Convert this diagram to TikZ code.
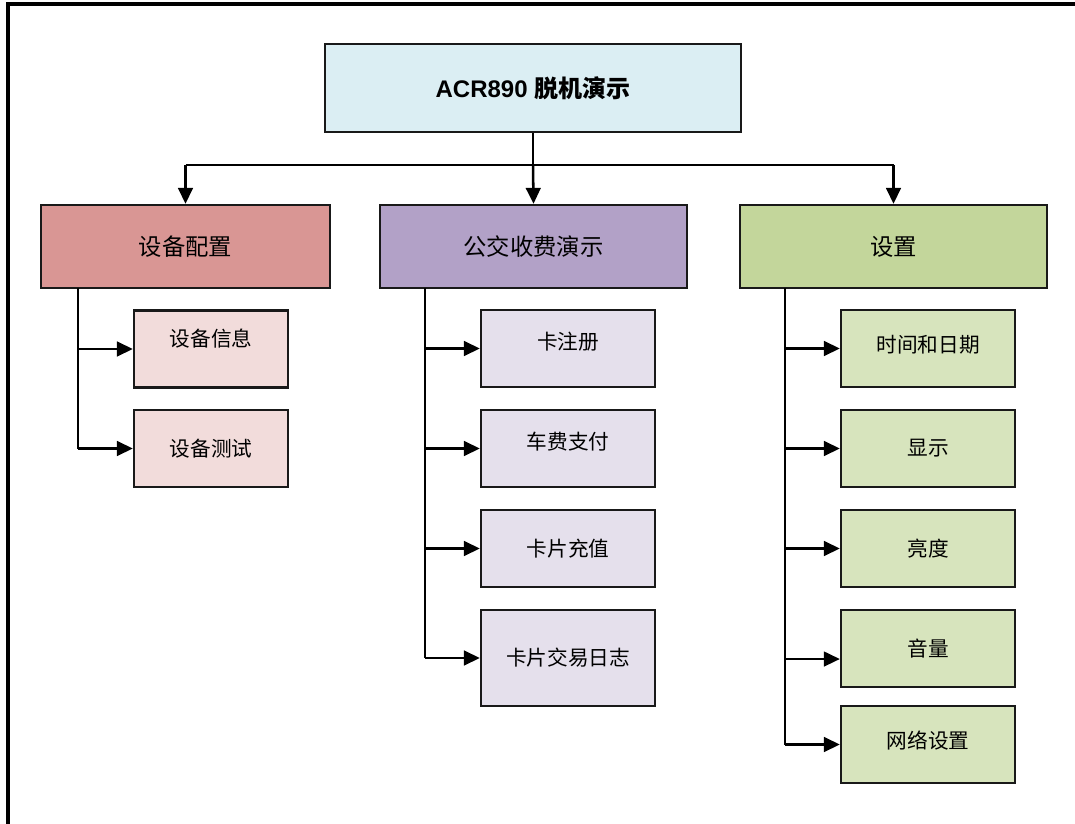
\documentclass[tikz,border=0pt]{standalone}
\usepackage{fontspec}
\setmainfont{Liberation Sans}
\newfontfamily\cjk{Noto Sans CJK SC}
\usetikzlibrary{arrows.meta}
\definecolor{rootfill}{HTML}{DBEEF3}
\definecolor{redA}{HTML}{D99694}
\definecolor{redB}{HTML}{F2DCDB}
\definecolor{purA}{HTML}{B2A1C7}
\definecolor{purB}{HTML}{E5E0EC}
\definecolor{grnA}{HTML}{C3D69B}
\definecolor{grnB}{HTML}{D7E4BD}
\begin{document}
\begin{tikzpicture}[x=0.75pt,y=-0.75pt,
  box/.style={draw=black!90,line width=1.7pt,inner sep=0pt,align=center},
  lvone/.style={box,minimum height=62.25pt,font=\cjk\fontsize{17.5}{20}\selectfont},
  leaf/.style={box,minimum width=130.5pt,minimum height=57.75pt,font=\cjk\fontsize{15.5}{18}\selectfont},
  conn/.style={line width=1.9pt},
  arr/.style={line width=1.9pt,-{Triangle[length=12pt,width=11pt]}}]
\useasboundingbox (0,0) rectangle (1075,824);
\begin{scope}
\clip (0,0) rectangle (1075,824);
\draw[line width=2.4pt] (1090,4) -- (8,4) -- (8,840);
\end{scope}
% root
\node[box,fill=rootfill,minimum width=312pt,minimum height=66pt,font=\bfseries\fontsize{18}{20}\selectfont] (root) at (533,88) {ACR890 {\cjk\bfseries 脱机演示}};
% level one
\node[lvone,fill=redA,minimum width=216.75pt] (a) at (185.5,246.5) {设备配置};
\node[lvone,fill=purA,minimum width=230.25pt] (b) at (533.5,246.5) {公交收费演示};
\node[lvone,fill=grnA,minimum width=230.25pt] (c) at (893.5,246.5) {设置};
% leaves
\node[leaf,fill=redB,minimum width=115.5pt] (a1) at (211,349) {\raisebox{16.5pt}{设备信息}};
\node[leaf,fill=redB,minimum width=115.5pt] (a2) at (211,448.5) {设备测试};
\node[leaf,fill=purB] (b1) at (568,348.5) {\raisebox{11pt}{卡注册}};
\node[leaf,fill=purB] (b2) at (568,448.5) {\raisebox{11pt}{车费支付}};
\node[leaf,fill=purB] (b3) at (568,548.5) {卡片充值};
\node[leaf,fill=purB,minimum height=72pt] (b4) at (568,658) {卡片交易日志};
\node[leaf,fill=grnB] (c1) at (928,348.5) {\raisebox{7pt}{时间和日期}};
\node[leaf,fill=grnB] (c2) at (928,448.5) {显示};
\node[leaf,fill=grnB] (c3) at (928,548.5) {亮度};
\node[leaf,fill=grnB] (c4) at (928,648.5) {音量};
\node[leaf,fill=grnB] (c5) at (928,744.5) {\raisebox{7pt}{网络设置}};
% top connectors
\coordinate (bar) at (533,165);
\draw[conn] (root.south) -- (bar);
\draw[conn] (a.north |- bar) -- (c.north |- bar);
\draw[arr] (a.north |- bar) -- (a.north);
\draw[arr] (bar) -- (b.north);
\draw[arr] (c.north |- bar) -- (c.north);
% trunks
\coordinate (ta) at (78,288);
\coordinate (tb) at (425,288);
\coordinate (tc) at (785,288);
\draw[conn] (ta) -- (ta |- a2.west);
\draw[arr] (ta |- a1.west) -- (a1.west);
\draw[arr] (ta |- a2.west) -- (a2.west);
\draw[conn] (tb) -- (tb |- b4.west);
\draw[arr] (tb |- b1.west) -- (b1.west);
\draw[arr] (tb |- b2.west) -- (b2.west);
\draw[arr] (tb |- b3.west) -- (b3.west);
\draw[arr] (tb |- b4.west) -- (b4.west);
\coordinate (c4y) at ([yshift=-7.9pt]c4.west);
\draw[conn] (tc) -- (tc |- c5.west);
\draw[arr] (tc |- c1.west) -- (c1.west);
\draw[arr] (tc |- c2.west) -- (c2.west);
\draw[arr] (tc |- c3.west) -- (c3.west);
\draw[arr] (tc |- c4y) -- (c4y);
\draw[arr] (tc |- c5.west) -- (c5.west);
\end{tikzpicture}
\end{document}
